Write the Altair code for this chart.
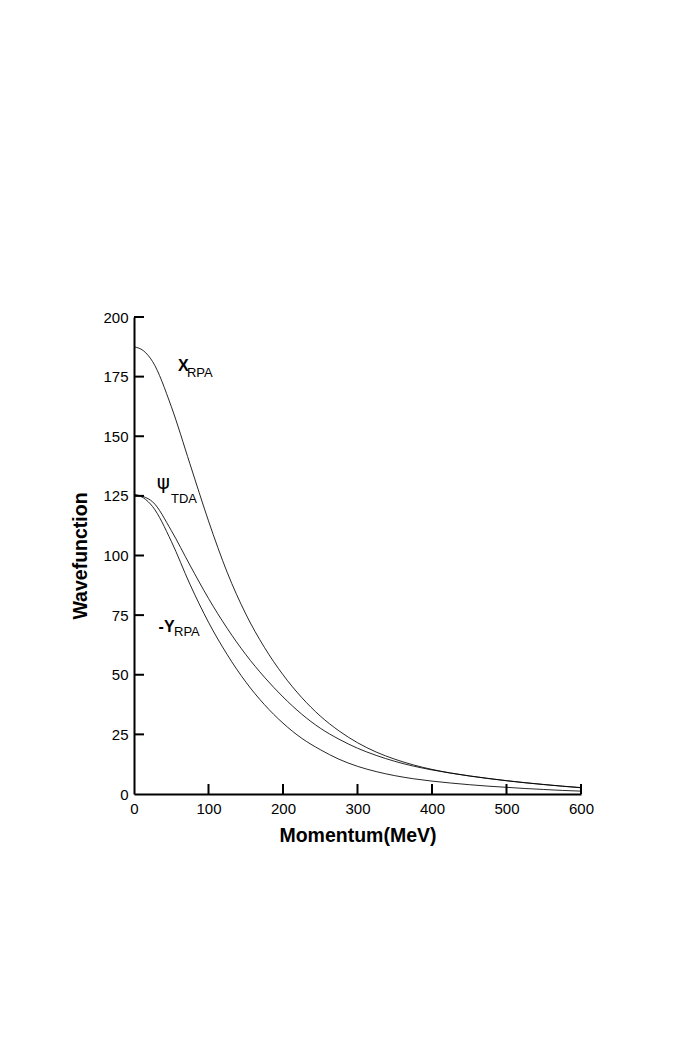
import altair as alt
import pandas as pd

momentum = [0, 12.5, 25, 50, 75, 100, 125, 150, 175, 200, 225, 250, 275, 300,
            325, 350, 375, 400, 425, 450, 475, 500, 525, 550, 575, 600]
x_rpa = [187.5, 185.9, 181.3, 162.5, 138.5, 114.5, 93, 75.5, 61.5, 50, 40.5, 32.7, 26.5, 21.5,
         17.6, 14.6, 12.2, 10.3, 8.8, 7.6, 6.55, 5.6, 4.75, 4.0, 3.3, 2.7]
psi_tda = [125.5, 124.7, 122.5, 110.5, 96, 82, 69.5, 58.5, 49, 40.7, 33.5, 27.6, 23.0, 19.2,
           16.2, 13.7, 11.7, 10.1, 8.75, 7.55, 6.5, 5.55, 4.7, 3.95, 3.25, 2.6]
neg_y_rpa = [125.5, 124.2, 120.5, 106, 88, 72, 58.5, 47, 37.5, 29.7, 23.4, 18.6, 14.6, 11.6,
             9.4, 7.7, 6.4, 5.4, 4.6, 3.9, 3.3, 2.8, 2.3, 1.9, 1.5, 1.2]

x_ticks = [0, 100, 200, 300, 400, 500, 600]
y_ticks = [0, 25, 50, 75, 100, 125, 150, 175, 200]

# curve annotations (symbol part and subscript part)
main_labels = ["X", "-Y"]
main_x = [59.1, 33.0]
main_y = [177.4, 68.0]
psi_labels = ["ψ"]
psi_x = [30.5]
psi_y = [127.9]
sub_labels = ["RPA", "TDA", "RPA"]
sub_x = [71.1, 49.7, 53.7]
sub_y = [174.7, 121.9, 66.2]

rows = []
for name, vals in [("X_RPA", x_rpa), ("psi_TDA", psi_tda), ("-Y_RPA", neg_y_rpa)]:
    for p, v in zip(momentum, vals):
        rows.append({"p": p, "v": v, "series": name})
df = pd.DataFrame(rows)

W, H = 447, 477
FONT = "Liberation Sans"

xscale = alt.Scale(domain=[0, 600], nice=False, zero=False)
yscale = alt.Scale(domain=[0, 200], nice=False, zero=False)

lines = alt.Chart(df).mark_line(color="black", strokeWidth=0.85, interpolate="monotone").encode(
    x=alt.X("p:Q", scale=xscale,
            axis=alt.Axis(values=x_ticks, format="d", grid=False, ticks=False, tickSize=0,
                          labelFlush=False, labelOverlap=False,
                          labelFont=FONT, labelFontSize=15, labelColor="black", labelPadding=7,
                          domainColor="black", domainWidth=2,
                          title="Momentum(MeV)", titleFont=FONT, titleFontSize=19.5,
                          titleFontWeight="bold", titleColor="black", titlePadding=10)),
    y=alt.Y("v:Q", scale=yscale,
            axis=alt.Axis(values=y_ticks, format="d", grid=False, ticks=False, tickSize=0,
                          labelFlush=False, labelOverlap=False,
                          labelFont=FONT, labelFontSize=15, labelColor="black", labelPadding=6,
                          domainColor="black", domainWidth=2,
                          title="Wavefunction", titleFont=FONT, titleFontSize=19.5,
                          titleFontWeight="bold", titleColor="black", titlePadding=12)),
    detail="series:N",
)

xt = alt.Chart(pd.DataFrame({"t": x_ticks[1:]})).mark_rule(color="black", strokeWidth=2).encode(
    x=alt.X("t:Q", scale=xscale), y=alt.value(H), y2=alt.value(H - 10))
yt = alt.Chart(pd.DataFrame({"t": y_ticks[1:]})).mark_rule(color="black", strokeWidth=2).encode(
    y=alt.Y("t:Q", scale=yscale), x=alt.value(0), x2=alt.value(10))

mains = alt.Chart(pd.DataFrame({"x": main_x, "y": main_y, "t": main_labels})).mark_text(
    font=FONT, fontSize=16, fontWeight="bold", align="left", baseline="alphabetic", color="black"
).encode(x=alt.X("x:Q", scale=xscale), y=alt.Y("y:Q", scale=yscale), text="t:N")

psis = alt.Chart(pd.DataFrame({"x": psi_x, "y": psi_y, "t": psi_labels})).mark_text(
    font="DejaVu Sans", fontSize=20, align="left", baseline="alphabetic", color="black"
).encode(x=alt.X("x:Q", scale=xscale), y=alt.Y("y:Q", scale=yscale), text="t:N")

subs = alt.Chart(pd.DataFrame({"x": sub_x, "y": sub_y, "t": sub_labels})).mark_text(
    font=FONT, fontSize=13, align="left", baseline="alphabetic", color="black"
).encode(x=alt.X("x:Q", scale=xscale), y=alt.Y("y:Q", scale=yscale), text="t:N")

chart = alt.layer(lines, xt, yt, mains, psis, subs).properties(
    width=W, height=H,
    autosize=alt.AutoSizeParams(type="none"),
    padding={"left": 126, "top": 309, "right": 100, "bottom": 200},
    background="white",
).configure_view(stroke=None)

chart.save("out.html", embed_options={"renderer": "svg", "actions": False})
